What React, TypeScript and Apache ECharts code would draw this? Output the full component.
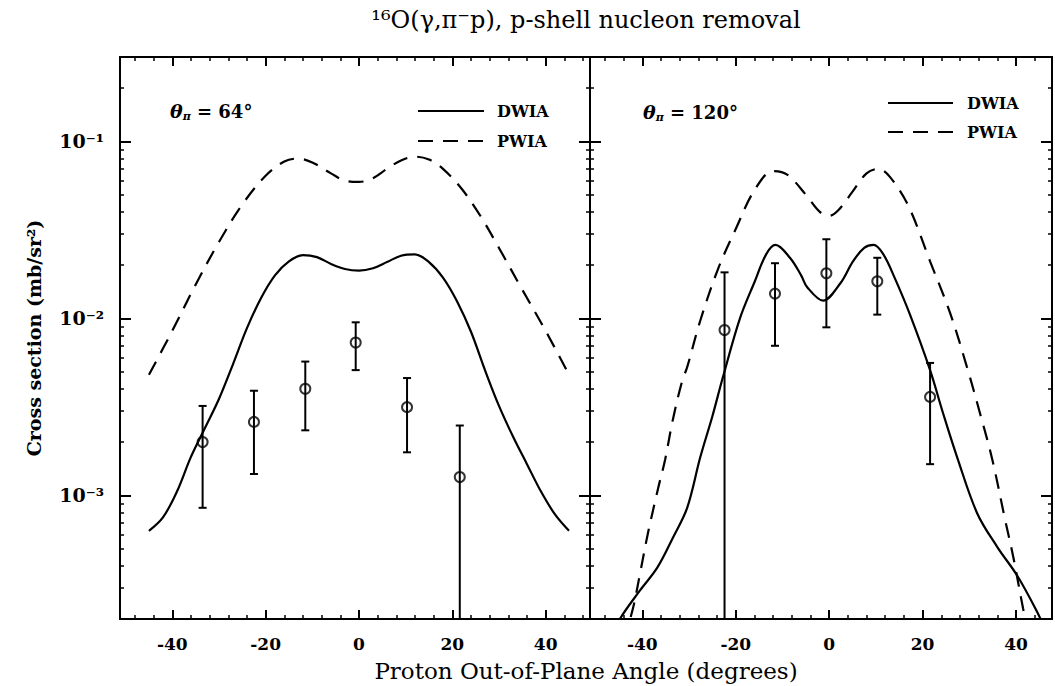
import React, { useEffect, useRef } from 'react';
import * as echarts from 'echarts';

// ---------- data ----------
const xMajorTicks = [-40, -20, 0, 20, 40];
const xMinorTicks = [-48, -44, -36, -32, -28, -24, -16, -12, -8, -4, 4, 8, 12, 16, 24, 28, 32, 36, 44, 48];
const yMajorTicks = [0.001, 0.01, 0.1];
const yMinorTicks = [
  3e-4, 4e-4, 5e-4, 6e-4, 7e-4, 8e-4, 9e-4,
  2e-3, 3e-3, 4e-3, 5e-3, 6e-3, 7e-3, 8e-3, 9e-3,
  2e-2, 3e-2, 4e-2, 5e-2, 6e-2, 7e-2, 8e-2, 9e-2,
  0.2,
];
const yTickLabels = ['10⁻³', '10⁻²', '10⁻¹'];

// left panel (theta_pi = 64 deg)
const leftAngles = [-33.5, -22.5, -11.5, -0.7, 10.3, 21.6];
const leftValues = [2.0e-3, 2.6e-3, 4.0e-3, 7.3e-3, 3.15e-3, 1.27e-3];
const leftLow = [8.5e-4, 1.32e-3, 2.33e-3, 5.1e-3, 1.75e-3, 0];
const leftHigh = [3.2e-3, 3.9e-3, 5.7e-3, 9.5e-3, 4.6e-3, 2.48e-3];

const leftDwiaX = [-45, -42, -39, -36, -33, -30, -27, -24, -21, -18, -15, -12, -9, -6, -3, 0, 3, 6, 9, 12, 15, 18, 21, 24, 27, 30, 33, 36, 39, 42, 45];
const leftDwiaY = [6.3e-4, 7.5e-4, 1.05e-3, 1.65e-3, 2.4e-3, 3.5e-3, 5.5e-3, 8.8e-3, 1.3e-2, 1.75e-2, 2.1e-2, 2.28e-2, 2.22e-2, 2.03e-2, 1.9e-2, 1.86e-2, 1.92e-2, 2.08e-2, 2.26e-2, 2.3e-2, 2.08e-2, 1.7e-2, 1.25e-2, 8.4e-3, 5.1e-3, 3.2e-3, 2.15e-3, 1.5e-3, 1.05e-3, 7.8e-4, 6.3e-4];

const leftPwiaX = [-45, -40, -35, -30, -25, -20, -16, -13, -10, -6, -3, 0, 3, 6, 9, 12, 15, 18, 22, 26, 30, 35, 40, 45];
const leftPwiaY = [4.8e-3, 8.5e-3, 1.55e-2, 2.7e-2, 4.4e-2, 6.4e-2, 7.7e-2, 8.0e-2, 7.6e-2, 6.6e-2, 6.0e-2, 5.9e-2, 6.2e-2, 7.0e-2, 7.8e-2, 8.2e-2, 7.9e-2, 7.0e-2, 5.4e-2, 3.8e-2, 2.5e-2, 1.45e-2, 8.5e-3, 4.8e-3];

// right panel (theta_pi = 120 deg)
const rightAngles = [-22.4, -11.6, -0.6, 10.3, 21.6];
const rightValues = [8.6e-3, 1.38e-2, 1.8e-2, 1.62e-2, 3.6e-3];
const rightLow = [0, 7.0e-3, 8.9e-3, 1.05e-2, 1.5e-3];
const rightHigh = [1.82e-2, 2.05e-2, 2.8e-2, 2.2e-2, 5.6e-3];

const rightDwiaX = [-46, -44.8, -40.5, -36.8, -33.4, -30.4, -27.6, -25, -22.8, -19.1, -16, -13.5, -11.5, -8.4, -6, -4.7, -1.3, 2.4, 5.1, 7.5, 9.5, 11.6, 14, 17.3, 21.6, 24.4, 27.4, 31.7, 36, 40.3, 44.5, 46];
const rightDwiaY = [1.65e-4, 2.0e-4, 2.9e-4, 3.9e-4, 5.8e-4, 8.5e-4, 1.64e-3, 2.8e-3, 4.6e-3, 1.0e-2, 1.6e-2, 2.3e-2, 2.6e-2, 2.2e-2, 1.75e-2, 1.5e-2, 1.26e-2, 1.58e-2, 2.1e-2, 2.5e-2, 2.6e-2, 2.3e-2, 1.7e-2, 1.05e-2, 5.1e-3, 2.9e-3, 1.64e-3, 7.9e-4, 5.1e-4, 3.5e-4, 2.2e-4, 1.8e-4];

const rightPwiaX = [-44, -42, -40.5, -38.8, -36.6, -35.1, -33.5, -31.5, -30.4, -27.6, -23.8, -20, -16, -12, -9, -5, -2, 0, 2, 5, 8, 10.5, 13, 17, 21.6, 25.9, 29.5, 32.3, 34.9, 37.7, 39.4, 41.5, 43];
const rightPwiaY = [1.5e-4, 2.3e-4, 3.6e-4, 6.1e-4, 1.1e-3, 1.6e-3, 2.65e-3, 4.4e-3, 5.3e-3, 9.7e-3, 1.9e-2, 3.2e-2, 5.3e-2, 6.8e-2, 6.5e-2, 5.0e-2, 4.0e-2, 3.8e-2, 4.1e-2, 5.2e-2, 6.6e-2, 7.0e-2, 6.3e-2, 4.3e-2, 2.1e-2, 1.07e-2, 5.3e-3, 2.9e-3, 1.6e-3, 7.2e-4, 4.5e-4, 2.3e-4, 1.5e-4];

// ---------- layout / style ----------
const FONT = 'DejaVu Serif';
const Y_MIN = 2e-4;
const Y_MAX = 0.3;
const L_MIN = Math.log10(Y_MIN);
const L_MAX = Math.log10(Y_MAX);

const pairs = (xs: number[], ys: number[]) => xs.map((x, i) => [x, ys[i]]);

function errorBarItem(params: any, api: any) {
  const x = api.value(0);
  const lo = api.value(2);
  const hi = api.value(3);
  const cs = params.coordSys;
  const bottom = cs.y + cs.height;
  const top = api.coord([x, hi]);
  const px = top[0];
  let loY = bottom;
  let capLow = false;
  if (lo > 0 && lo >= Y_MIN) {
    loY = api.coord([x, lo])[1];
    capLow = true;
  }
  const st = { stroke: '#000', lineWidth: 2 };
  const children: any[] = [
    { type: 'line', shape: { x1: px, y1: top[1], x2: px, y2: loY }, style: st },
    { type: 'line', shape: { x1: px - 4, y1: top[1], x2: px + 4, y2: top[1] }, style: st },
  ];
  if (capLow) children.push({ type: 'line', shape: { x1: px - 4, y1: loY, x2: px + 4, y2: loY }, style: st });
  return { type: 'group', children };
}

const noLine = { show: false, onZero: false };

function makeXAxes(grid: number, min: number, max: number) {
  const base = { type: 'value', gridIndex: grid, min, max, splitLine: { show: false }, axisLine: noLine };
  return [
    {
      ...base, position: 'bottom',
      axisTick: { inside: true, length: 9, customValues: xMajorTicks, lineStyle: { color: '#000', width: 2 } },
      axisLabel: { customValues: xMajorTicks, color: '#000', fontFamily: FONT, fontWeight: 'bold', fontSize: 17, margin: 16 },
    },
    { ...base, position: 'bottom', axisTick: { inside: true, length: 4, customValues: xMinorTicks, lineStyle: { color: '#000', width: 1.5 } }, axisLabel: { show: false } },
    { ...base, position: 'top', axisTick: { inside: true, length: 9, customValues: xMajorTicks, lineStyle: { color: '#000', width: 2 } }, axisLabel: { show: false } },
    { ...base, position: 'top', axisTick: { inside: true, length: 4, customValues: xMinorTicks, lineStyle: { color: '#000', width: 1.5 } }, axisLabel: { show: false } },
  ];
}

function makeYAxes(grid: number, labels: boolean) {
  const lin = { type: 'value', gridIndex: grid, min: L_MIN, max: L_MAX, splitLine: { show: false }, axisLine: noLine };
  const major = yMajorTicks.map((v) => Math.log10(v));
  const minor = yMinorTicks.map((v) => Math.log10(v));
  return [
    { type: 'log', gridIndex: grid, min: Y_MIN, max: Y_MAX, position: 'left', axisLine: noLine, axisTick: { show: false }, axisLabel: { show: false }, splitLine: { show: false } },
    {
      ...lin, position: 'left',
      axisTick: { inside: true, length: 11, customValues: major, lineStyle: { color: '#000', width: 2 } },
      axisLabel: labels
        ? { customValues: major, color: '#000', fontFamily: FONT, fontWeight: 'bold', fontSize: 19, margin: 16, formatter: (v: number) => yTickLabels[Math.round(v) + 3] }
        : { show: false },
    },
    { ...lin, position: 'left', axisTick: { inside: true, length: 4, customValues: minor, lineStyle: { color: '#000', width: 1.5 } }, axisLabel: { show: false } },
    { ...lin, position: 'right', axisTick: { inside: true, length: 11, customValues: major, lineStyle: { color: '#000', width: 2 } }, axisLabel: { show: false } },
    { ...lin, position: 'right', axisTick: { inside: true, length: 4, customValues: minor, lineStyle: { color: '#000', width: 1.5 } }, axisLabel: { show: false } },
  ];
}

function panelSeries(grid: number, dwia: number[][], pwia: number[][], angles: number[], vals: number[], lo: number[], hi: number[]) {
  const xi = grid * 4;
  const yi = grid * 5;
  return [
    { type: 'line', name: 'DWIA', xAxisIndex: xi, yAxisIndex: yi, data: dwia, smooth: 0.35, showSymbol: false, clip: true, lineStyle: { color: '#000', width: 2.2 } },
    { type: 'line', name: 'PWIA', xAxisIndex: xi, yAxisIndex: yi, data: pwia, smooth: 0.35, showSymbol: false, clip: true, lineStyle: { color: '#000', width: 2.2, type: [15, 10] } },
    {
      type: 'custom', name: 'err', xAxisIndex: xi, yAxisIndex: yi,
      data: angles.map((a, i) => [a, vals[i], lo[i], hi[i]]),
      encode: { x: 0, y: 1 }, renderItem: errorBarItem, clip: true,
    },
    {
      type: 'scatter', name: 'data', xAxisIndex: xi, yAxisIndex: yi,
      data: angles.map((a, i) => [a, vals[i]]),
      symbol: 'circle', symbolSize: 10,
      itemStyle: { color: 'rgba(0,0,0,0)', borderColor: '#000', borderWidth: 2 },
    },
  ];
}

function legend(x1: number, x2: number, yD: number, yP: number, tx: number) {
  const t = (text: string, y: number) => ({ type: 'text', x: tx, y, style: { text, fill: '#000', fontFamily: FONT, fontWeight: 'bold', fontSize: 16, align: 'left', verticalAlign: 'middle' } });
  return [
    { type: 'line', shape: { x1, y1: yD, x2, y2: yD }, style: { stroke: '#000', lineWidth: 2.2 } },
    { type: 'line', shape: { x1, y1: yP, x2, y2: yP }, style: { stroke: '#000', lineWidth: 2.2, lineDash: [15, 10] } },
    t('DWIA', yD),
    t('PWIA', yP),
  ];
}

function thetaLabel(x: number, y: number, deg: string) {
  return {
    type: 'text', x, y,
    style: {
      text: `{t|θ}{s|π}{n| = ${deg}°}`,
      fill: '#000', align: 'left', verticalAlign: 'middle',
      rich: {
        t: { fontFamily: FONT, fontWeight: 'bold', fontStyle: 'italic', fontSize: 19, fill: '#000' },
        s: { fontFamily: FONT, fontWeight: 'bold', fontStyle: 'italic', fontSize: 11, fill: '#000', padding: [10, 0, 0, 0] },
        n: { fontFamily: FONT, fontWeight: 'bold', fontSize: 18, fill: '#000' },
      },
    },
  };
}

export default function App() {
  const ref = useRef<HTMLDivElement>(null);
  useEffect(() => {
    if (!ref.current) return;
    const chart = echarts.init(ref.current, undefined, { renderer: 'svg' });
    const option: any = {
      animation: false,
      backgroundColor: '#fff',
      grid: [
        { left: 120, top: 57, width: 470, height: 562, show: true, borderColor: '#000', borderWidth: 2, backgroundColor: 'transparent' },
        { left: 590, top: 57, width: 462, height: 562, show: true, borderColor: '#000', borderWidth: 2, backgroundColor: 'transparent' },
      ],
      xAxis: [...makeXAxes(0, -51.2, 49.5), ...makeXAxes(1, -51.2, 47.7)],
      yAxis: [...makeYAxes(0, true), ...makeYAxes(1, false)],
      series: [
        ...panelSeries(0, pairs(leftDwiaX, leftDwiaY), pairs(leftPwiaX, leftPwiaY), leftAngles, leftValues, leftLow, leftHigh),
        ...panelSeries(1, pairs(rightDwiaX, rightDwiaY), pairs(rightPwiaX, rightPwiaY), rightAngles, rightValues, rightLow, rightHigh),
      ],
      graphic: [
        { type: 'text', x: 586, y: 20, style: { text: '¹⁶O(γ,π⁻p), p-shell nucleon removal', fill: '#000', fontFamily: FONT, fontSize: 24, align: 'center', verticalAlign: 'middle' } },
        { type: 'text', x: 586, y: 671, style: { text: 'Proton Out-of-Plane Angle (degrees)', fill: '#000', fontFamily: FONT, fontSize: 23, align: 'center', verticalAlign: 'middle' } },
        { type: 'text', x: 34, y: 338, rotation: Math.PI / 2, style: { text: 'Cross section (mb/sr²)', fill: '#000', fontFamily: FONT, fontWeight: 'bold', fontSize: 19, align: 'center', verticalAlign: 'middle' } },
        thetaLabel(170, 111, '64'),
        thetaLabel(643, 112, '120'),
        ...legend(418, 484, 111, 141, 497),
        ...legend(888, 953, 103, 132, 967),
      ],
    };
    chart.setOption(option);
    return () => chart.dispose();
  }, []);
  return <div ref={ref} style={{ position: 'fixed', left: 0, top: 0, width: 1055, height: 686, background: '#fff' }} />;
}
